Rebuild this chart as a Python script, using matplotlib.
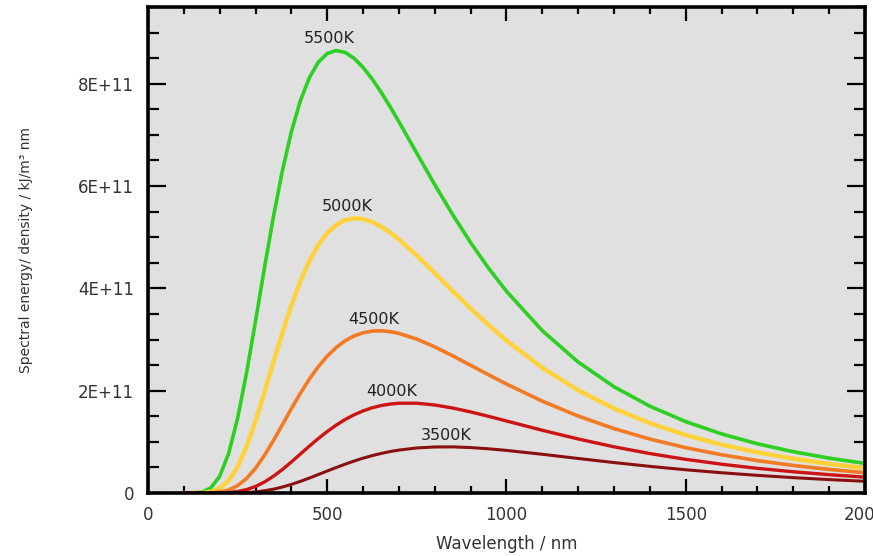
import numpy as np
import matplotlib
matplotlib.use("Agg")
import matplotlib.pyplot as plt
from matplotlib.ticker import MultipleLocator, FuncFormatter

# wavelength grid (nm) shared by all curves
wavelength = [100, 125, 150, 175, 200, 225, 250, 275, 300, 325, 350, 375, 400,
              425, 450, 475, 500, 525, 550, 575, 600, 625, 650, 675, 700,
              750, 800, 850, 900, 950, 1000,
              1100, 1200, 1300, 1400, 1500, 1600, 1700, 1800, 1900, 2000]

# spectral energy density, in units of 1E+11
u_5500 = [0.0, 0.001, 0.018, 0.098, 0.326, 0.774, 1.461, 2.349, 3.359, 4.404, 5.403, 6.301, 7.061,
          7.666, 8.116, 8.420, 8.591, 8.649, 8.612, 8.497, 8.320, 8.096, 7.838, 7.556, 7.257,
          6.640, 6.026, 5.440, 4.895, 4.395, 3.943,
          3.172, 2.560, 2.077, 1.697, 1.395, 1.155, 0.962, 0.807, 0.681, 0.579]
u_5000 = [0.0, 0.0, 0.003, 0.022, 0.088, 0.242, 0.513, 0.907, 1.404, 1.969, 2.558, 3.135, 3.669,
          4.138, 4.532, 4.846, 5.080, 5.241, 5.335, 5.370, 5.355, 5.299, 5.210, 5.093, 4.956,
          4.642, 4.298, 3.948, 3.607, 3.283, 2.981,
          2.448, 2.009, 1.652, 1.365, 1.133, 0.946, 0.794, 0.671, 0.569, 0.486]
u_4500 = [0.0, 0.0, 0.0, 0.004, 0.018, 0.058, 0.143, 0.284, 0.484, 0.736, 1.026, 1.336, 1.649,
          1.949, 2.225, 2.469, 2.676, 2.845, 2.976, 3.071, 3.132, 3.165, 3.171, 3.155, 3.120,
          3.008, 2.856, 2.682, 2.497, 2.311, 2.130,
          1.795, 1.504, 1.259, 1.054, 0.886, 0.748, 0.633, 0.539, 0.461, 0.396]
u_4000 = [0.0, 0.0, 0.0, 0.0, 0.002, 0.010, 0.029, 0.066, 0.128, 0.215, 0.328, 0.460, 0.607,
          0.761, 0.915, 1.064, 1.202, 1.327, 1.437, 1.529, 1.605, 1.665, 1.709, 1.738, 1.755,
          1.755, 1.720, 1.661, 1.585, 1.499, 1.408,
          1.226, 1.056, 0.903, 0.771, 0.658, 0.563, 0.482, 0.415, 0.358, 0.310]
u_3500 = [0.0, 0.0, 0.0, 0.0, 0.0, 0.001, 0.004, 0.010, 0.022, 0.044, 0.075, 0.117, 0.168,
          0.227, 0.292, 0.361, 0.430, 0.498, 0.564, 0.625, 0.681, 0.730, 0.773, 0.810, 0.839,
          0.881, 0.900, 0.902, 0.888, 0.864, 0.833,
          0.757, 0.675, 0.595, 0.521, 0.454, 0.396, 0.345, 0.300, 0.262, 0.229]

labels = ["5500K", "5000K", "4500K", "4000K", "3500K"]
series = [u_5500, u_5000, u_4500, u_4000, u_3500]
colors = ["#2ccf22", "#ffd23c", "#f27a22", "#cc1414", "#8a0f0f"]
widths = [2.6, 3.2, 2.6, 2.4, 2.2]

fig = plt.figure(figsize=(8.73, 5.56), dpi=100)
ax = fig.add_axes([0.1695, 0.1133, 0.8213, 0.8741])
ax.set_facecolor("#e0e0e0")

wl = np.array(wavelength)
for lab, vals, c, lw in zip(labels, series, colors, widths):
    v = np.array(vals) * 1e11
    ax.plot(wl, v, color=c, lw=lw, solid_capstyle="round", solid_joinstyle="round")
    i = int(np.argmax(v))
    ax.annotate(lab, xy=(wl[i], v[i]), xytext=(-5, 3), textcoords="offset points",
                ha="center", va="bottom", fontsize=11.5, color="#222222")

ax.set_xlim(0, 2000)
ax.set_ylim(0, 9.5e11)

ax.xaxis.set_major_locator(MultipleLocator(500))
ax.xaxis.set_minor_locator(MultipleLocator(100))
ax.yaxis.set_major_locator(MultipleLocator(2e11))
ax.yaxis.set_minor_locator(MultipleLocator(0.5e11))
ax.yaxis.set_major_formatter(FuncFormatter(lambda v, p: "0" if v == 0 else "%dE+11" % round(v / 1e11)))

ax.tick_params(which="both", direction="in", top=True, right=True, width=1.6, color="black",
               labelsize=12, labelcolor="#333333")
ax.tick_params(axis="x", which="major", length=10, pad=9)
ax.tick_params(axis="x", which="minor", length=5)
ax.tick_params(axis="y", which="major", length=13, pad=10)
ax.tick_params(axis="y", which="minor", length=8)

for s in ax.spines.values():
    s.set_linewidth(2.6)
    s.set_color("black")

ax.set_xlabel("Wavelength / nm", fontsize=12, color="#333333")
ax.xaxis.set_label_coords(0.5, -0.086)
ax.set_ylabel("Spectral energy/ density / kJ/m³ nm", fontsize=10, color="#333333")
ax.yaxis.set_label_coords(-0.161, 0.5)

fig.savefig("out.png", dpi=100)
